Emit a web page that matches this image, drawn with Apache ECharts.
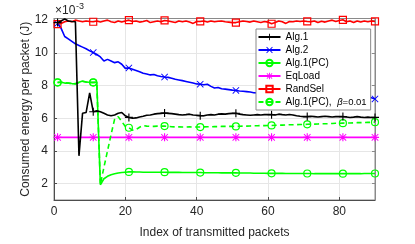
<!DOCTYPE html>
<html><head><meta charset="utf-8">
<script src="https://cdn.jsdelivr.net/npm/echarts@6/dist/echarts.min.js"></script>
<style>html,body{margin:0;padding:0;background:#fff}#c{width:415px;height:244px}</style>
</head><body><div id="c"></div>
<script>
const xTicks = [0, 20, 40, 60, 80];
const yTicks = [2, 4, 6, 8, 10, 12];
const markerIdx = [0, 10, 20, 30, 40, 50, 60, 70, 80, 89];
const seriesNames = ['Alg.1', 'Alg.2', 'Alg.1(PC)', 'EqLoad', 'RandSel', 'Alg.1(PC),  β=0.01'];

const alg1 = [11.85, 11.95, 12.08, 11.95, 11.92, 11.9, 3.7, 6.3, 6.35, 7.55,
  6.4, 6.45, 6.4, 6.3, 6.2, 6.15, 6.2, 6.3, 6.35, 6.15,
  6.05, 6.0, 6.02, 6.08, 6.12, 6.18, 6.2, 6.25, 6.28, 6.3,
  6.32, 6.3, 6.28, 6.25, 6.22, 6.2, 6.22, 6.25, 6.2, 6.18,
  6.16, 6.15, 6.2, 6.22, 6.2, 6.25, 6.27, 6.25, 6.28, 6.3,
  6.3, 6.25, 6.22, 6.2, 6.18, 6.2, 6.22, 6.2, 6.22, 6.22,
  6.22, 6.2, 6.25, 6.22, 6.2, 6.23, 6.2, 6.15, 6.12, 6.1,
  6.1, 6.12, 6.1, 6.08, 6.1, 6.12, 6.1, 6.08, 6.1, 6.1,
  6.1, 6.08, 6.05, 6.07, 6.1, 6.07, 6.05, 6.07, 6.05, 6.05];

const alg2 = [11.8, 11.5, 11.0, 10.85, 10.7, 10.55, 10.45, 10.35, 10.25, 10.12,
  10.02, 9.9, 9.75, 9.5, 9.6, 9.5, 9.4, 9.45, 9.3, 9.05,
  9.08, 9.0, 8.92, 8.84, 8.75, 8.7, 8.65, 8.68, 8.6, 8.55,
  8.52, 8.5, 8.45, 8.38, 8.34, 8.3, 8.25, 8.2, 8.15, 8.1,
  8.08, 8.05, 8.08, 7.95, 7.85, 7.88, 7.8, 7.78, 7.75, 7.72,
  7.7, 7.67, 7.65, 7.63, 7.6, 7.56, 7.55, 7.54, 7.53, 7.52,
  7.5, 7.5, 7.49, 7.48, 7.47, 7.46, 7.45, 7.45, 7.44, 7.43,
  7.42, 7.42, 7.41, 7.4, 7.4, 7.39, 7.38, 7.38, 7.37, 7.37,
  7.36, 7.36, 7.35, 7.35, 7.34, 7.34, 7.33, 7.32, 7.25, 7.18];

const algPC = [8.2, 8.2, 8.15, 8.15, 8.12, 8.1, 8.2, 8.28, 8.22, 8.2,
  8.2, 8.2, 1.93, 2.3, 2.45, 2.55, 2.6, 2.65, 2.68, 2.7,
  2.72, 2.72, 2.71, 2.71, 2.7, 2.7, 2.7, 2.7, 2.7, 2.7,
  2.7, 2.69, 2.69, 2.69, 2.69, 2.68, 2.68, 2.68, 2.68, 2.68,
  2.68, 2.67, 2.67, 2.67, 2.67, 2.67, 2.66, 2.66, 2.66, 2.66,
  2.66, 2.65, 2.65, 2.65, 2.65, 2.64, 2.64, 2.64, 2.64, 2.63,
  2.63, 2.63, 2.63, 2.63, 2.62, 2.62, 2.62, 2.62, 2.62, 2.62,
  2.62, 2.62, 2.61, 2.61, 2.61, 2.61, 2.61, 2.61, 2.61, 2.61,
  2.61, 2.61, 2.61, 2.61, 2.61, 2.61, 2.62, 2.62, 2.62, 2.62];

const eqLoad = [4.83, 4.83, 4.83, 4.83, 4.83, 4.83, 4.83, 4.83, 4.83, 4.83,
  4.83, 4.83, 4.83, 4.83, 4.83, 4.83, 4.83, 4.83, 4.83, 4.83,
  4.83, 4.83, 4.83, 4.83, 4.83, 4.83, 4.83, 4.83, 4.83, 4.83,
  4.83, 4.83, 4.83, 4.83, 4.83, 4.83, 4.83, 4.83, 4.83, 4.83,
  4.83, 4.83, 4.83, 4.83, 4.83, 4.83, 4.83, 4.83, 4.83, 4.83,
  4.83, 4.83, 4.83, 4.83, 4.83, 4.83, 4.83, 4.83, 4.83, 4.83,
  4.83, 4.83, 4.83, 4.83, 4.83, 4.83, 4.83, 4.83, 4.83, 4.83,
  4.83, 4.83, 4.83, 4.83, 4.83, 4.83, 4.83, 4.83, 4.83, 4.83,
  4.83, 4.83, 4.83, 4.83, 4.83, 4.83, 4.83, 4.83, 4.83, 4.83];

const randSel = [11.75, 11.8, 11.9, 11.95, 11.9, 12.0, 11.95, 11.9, 11.95, 11.92,
  11.9, 11.95, 11.88, 11.95, 12.0, 11.9, 11.85, 11.95, 11.88, 11.95,
  12.0, 11.92, 11.95, 11.88, 11.92, 11.98, 11.85, 11.9, 11.95, 11.9,
  11.98, 11.95, 11.9, 11.85, 11.95, 11.9, 11.95, 11.88, 11.8, 11.92,
  11.92, 11.95, 11.88, 11.95, 11.9, 11.93, 11.95, 11.9, 11.88, 11.85,
  11.85, 11.9, 11.95, 11.92, 11.88, 11.95, 11.9, 11.85, 11.92, 11.88,
  11.78, 11.85, 11.95, 11.9, 11.8, 11.92, 11.9, 11.95, 11.92, 11.95,
  11.92, 11.9, 11.95, 11.85, 11.93, 11.88, 11.95, 12.0, 11.92, 11.98,
  12.02, 11.9, 11.95, 11.85, 11.95, 11.88, 11.95, 11.9, 11.95, 11.92];

const algPCBeta = [8.18, 8.2, 8.18, 8.15, 8.12, 8.12, 8.18, 8.25, 8.22, 8.18,
  8.18, 8.2, 1.95, 3.0, 4.0, 5.0, 5.95, 6.1, 5.8, 5.5,
  5.42, 5.27, 5.3, 5.45, 5.55, 5.52, 5.5, 5.5, 5.52, 5.52,
  5.52, 5.5, 5.48, 5.47, 5.47, 5.46, 5.46, 5.47, 5.46, 5.46,
  5.46, 5.47, 5.48, 5.48, 5.49, 5.49, 5.5, 5.5, 5.5, 5.5,
  5.5, 5.51, 5.52, 5.52, 5.53, 5.54, 5.54, 5.55, 5.55, 5.56,
  5.56, 5.57, 5.58, 5.58, 5.59, 5.6, 5.6, 5.61, 5.62, 5.62,
  5.63, 5.64, 5.64, 5.65, 5.66, 5.66, 5.67, 5.68, 5.69, 5.69,
  5.7, 5.71, 5.71, 5.72, 5.73, 5.73, 5.74, 5.75, 5.75, 5.76];

const FONT = '"Liberation Sans", Arial, Helvetica, sans-serif';
const PLUS = 'path://M8.6,0H11.4V8.6H20V11.4H11.4V20H8.6V11.4H0V8.6H8.6Z';
const CROSS = 'path://M0,1.8L1.8,0L10,8.2L18.2,0L20,1.8L11.8,10L20,18.2L18.2,20L10,11.8L1.8,20L0,18.2L8.2,10Z';
const STAR = 'path://M8.6,0H11.4V8.6H20V11.4H11.4V20H8.6V11.4H0V8.6H8.6Z M1,2.6L2.6,1L10,8.4L17.4,1L19,2.6L11.6,10L19,17.4L17.4,19L10,11.6L2.6,19L1,17.4L8.4,10Z';

function pts(arr) { return arr.map((v, i) => [i + 1, v]); }
function symSize(s) { return (val, p) => markerIdx.indexOf(p.dataIndex) >= 0 ? s : 0; }

function mk(name, arr, color, symbol, size, opts) {
  opts = opts || {};
  const hollow = opts.hollow;
  return {
    name: name, type: 'line', data: pts(arr),
    symbol: symbol, symbolSize: symSize(size), showSymbol: true, showAllSymbol: true,
    lineStyle: { color: color, width: 1.6, type: opts.dash ? [5, 3.5] : 'solid' },
    itemStyle: hollow ? { color: 'rgba(255,255,255,0)', borderColor: color, borderWidth: 1.2 } : { color: color, borderWidth: 0 },
    color: color,
    z: opts.z || 2,
    emphasis: { disabled: true },
    clip: true
  };
}

const chart = echarts.init(document.getElementById('c'), null, { renderer: 'canvas' });
chart.setOption({
  animation: false,
  backgroundColor: '#fff',
  textStyle: { fontFamily: FONT },
  grid: { left: 54, right: 40, top: 18.5, bottom: 39, show: true, borderColor: '#8a8a8a', borderWidth: 1, backgroundColor: 'transparent' },
  xAxis: [{
    type: 'value', min: 0, max: 90,
    name: 'Index of transmitted packets', nameLocation: 'middle', nameGap: 27, nameMoveOverlap: false,
    nameTextStyle: { fontSize: 12, color: '#262626', fontFamily: FONT },
    axisLine: { show: true, onZero: false, lineStyle: { color: '#4d4d4d', width: 1 } },
    axisTick: { show: true, inside: true, length: 3, customValues: xTicks, lineStyle: { color: '#4d4d4d' } },
    axisLabel: { customValues: xTicks, fontSize: 12, color: '#262626', margin: 6, fontFamily: FONT },
    splitLine: { show: true, lineStyle: { color: '#e6e6e6', width: 1 } }
  }, {
    type: 'value', min: 0, max: 90, position: 'top',
    axisLine: { show: true, onZero: false, lineStyle: { color: '#8a8a8a' } },
    axisTick: { show: true, inside: true, length: 3, customValues: xTicks, lineStyle: { color: '#8a8a8a' } },
    axisLabel: { show: false }, splitLine: { show: false }
  }],
  yAxis: [{
    type: 'value', min: 1, max: 12.1,
    name: 'Consumed energy per packet (J)', nameLocation: 'middle', nameGap: 22, nameMoveOverlap: false,
    nameTextStyle: { fontSize: 12, color: '#262626', fontFamily: FONT },
    axisLine: { show: true, onZero: false, lineStyle: { color: '#4d4d4d', width: 1 } },
    axisTick: { show: true, inside: true, length: 3, customValues: yTicks, lineStyle: { color: '#4d4d4d' } },
    axisLabel: { customValues: yTicks, fontSize: 12, color: '#262626', margin: 6, fontFamily: FONT },
    splitLine: { show: true, lineStyle: { color: '#e6e6e6', width: 1 } }
  }, {
    type: 'value', min: 1, max: 12.1, position: 'right',
    axisLine: { show: true, onZero: false, lineStyle: { color: '#8a8a8a' } },
    axisTick: { show: true, inside: true, length: 3, customValues: yTicks, lineStyle: { color: '#8a8a8a' } },
    axisLabel: { show: false }, splitLine: { show: false }
  }],
  legend: {
    orient: 'vertical', left: 256, top: 29,
    itemWidth: 22, itemHeight: 8, itemGap: 0,
    padding: [1.5, 4, 1.5, 1.5],
    backgroundColor: '#fff', borderColor: '#8a8a8a', borderWidth: 1, borderRadius: 0,
    textStyle: { fontSize: 10, color: '#000', lineHeight: 13, fontFamily: FONT, rich: { it: { fontStyle: 'italic', fontSize: 9.5, fontFamily: FONT }, s: { fontSize: 9.5, fontFamily: FONT } } },
    formatter: function (n) { return n === seriesNames[5] ? 'Alg.1(PC),  {it|β}{s|=0.01}' : n; },
    data: seriesNames,
    z: 10
  },
  graphic: [
    { type: 'text', left: 55, top: 5, style: { text: '×10', fontSize: 12, fill: '#262626', fontFamily: FONT } },
    { type: 'text', left: 76, top: 2, style: { text: '-3', fontSize: 9, fill: '#262626', fontFamily: FONT } }
  ],
  series: [
    mk(seriesNames[0], alg1, '#000000', PLUS, 8, { z: 3 }),
    mk(seriesNames[1], alg2, '#0000ff', CROSS, 7, {}),
    mk(seriesNames[2], algPC, '#00ff00', 'circle', 7, { hollow: true }),
    mk(seriesNames[3], eqLoad, '#ff00ff', STAR, 8, {}),
    mk(seriesNames[4], randSel, '#ff0000', 'rect', 7, { hollow: true }),
    mk(seriesNames[5], algPCBeta, '#00ff00', 'circle', 7, { hollow: true, dash: true })
  ]
});
</script>
</body></html>
